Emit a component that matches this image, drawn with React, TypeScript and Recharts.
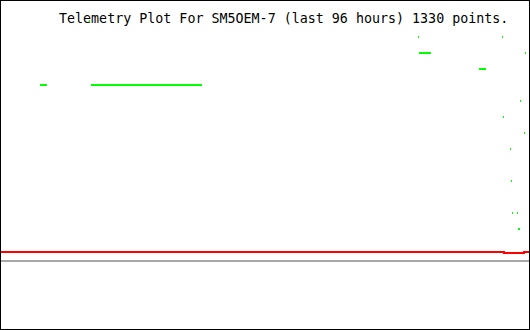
import React from "react";
import { ComposedChart, Line, XAxis, YAxis, ReferenceLine } from "recharts";

const title = "Telemetry Plot For SM5OEM-7 (last 96 hours) 1330 points.";

// green runs: start / end (hours into the window) and level
const greenStart = [16.0, 75.82, 91.09, 76.0, 95.27, 86.91, 7.09, 16.36, 94.36, 91.27, 95.09, 92.55, 92.73, 92.91, 93.82, 94.0];
const greenEnd = [16.18, 76.0, 91.27, 78.18, 95.45, 88.18, 8.36, 36.55, 94.55, 91.45, 95.27, 92.73, 92.91, 93.09, 94.0, 94.36];
const greenLevel = [15, 14, 14, 13, 13, 12, 11, 11, 10, 9, 8, 7, 5, 3, 3, 2];

// red trace (step changes)
const redHours = [0, 91.45, 95.09, 96];
const redLevel = [0.5625, 0.5, 0.5625, 0.5625];

const greenData: { t: number; v: number | null }[] = [];
greenStart.forEach((s, i) => {
  greenData.push({ t: s, v: greenLevel[i] });
  greenData.push({ t: greenEnd[i], v: greenLevel[i] });
  greenData.push({ t: greenEnd[i], v: null });
});
const redData = redHours.map((t, i) => ({ t, v: redLevel[i] }));

export default function App() {
  return (
    <div
      style={{
        position: "absolute",
        left: 0,
        top: 0,
        width: 530,
        height: 330,
        boxSizing: "border-box",
        border: "1px solid #000",
        background: "#fff",
      }}
    >
      <svg width={528} height={328} style={{ position: "absolute", left: 0, top: 0 }}>
        <text x={58} y={22} fontFamily="'DejaVu Sans Mono', monospace" fontSize={13.33} fill="#000">
          {title}
        </text>
      </svg>
      <div style={{ position: "absolute", left: 0, top: 0 }}>
        <ComposedChart width={528} height={328} margin={{ top: 0, right: 0, bottom: 0, left: 0 }}>
          <XAxis type="number" dataKey="t" domain={[0, 96]} hide allowDataOverflow />
          <YAxis type="number" domain={[-4.25, 16.25]} hide allowDataOverflow />
          <ReferenceLine y={0} stroke="#a8a8a8" strokeWidth={2} />
          <Line
            data={redData}
            dataKey="v"
            type="stepAfter"
            stroke="#ff0000"
            strokeWidth={2}
            dot={false}
            activeDot={false}
            isAnimationActive={false}
          />
          <Line
            data={greenData}
            dataKey="v"
            type="linear"
            stroke="#00ff00"
            strokeWidth={2}
            dot={false}
            activeDot={false}
            connectNulls={false}
            isAnimationActive={false}
          />
        </ComposedChart>
      </div>
    </div>
  );
}
